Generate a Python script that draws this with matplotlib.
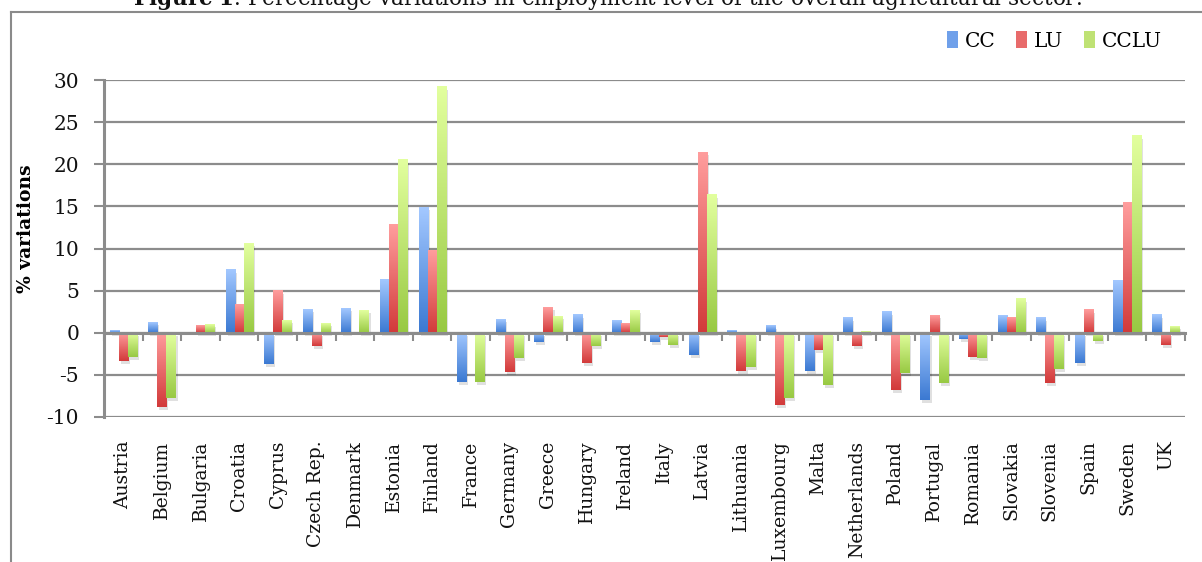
import numpy as np
import matplotlib
matplotlib.use("Agg")
import matplotlib.pyplot as plt
from matplotlib.patches import Patch
from matplotlib.colors import LinearSegmentedColormap
import matplotlib.transforms as mtransforms

countries = ["Austria", "Belgium", "Bulgaria", "Croatia", "Cyprus", "Czech Rep.",
             "Denmark", "Estonia", "Finland", "France", "Germany", "Greece",
             "Hungary", "Ireland", "Italy", "Latvia", "Lithuania", "Luxembourg",
             "Malta", "Netherlands", "Poland", "Portugal", "Romania", "Slovakia",
             "Slovenia", "Spain", "Sweden", "UK"]

cc = [0.3, 1.3, 0.0, 7.5, -3.75, 2.8, 2.9, 6.3, 14.9, -5.9, 1.6, -1.15,
      2.15, 1.45, -1.15, -2.7, 0.3, 0.85, -4.5, 1.8, 2.5, -8.0, -0.8, 2.05,
      1.8, -3.6, 6.2, 2.15]
lu = [-3.4, -8.85, 0.85, 3.4, 5.0, -1.6, 0.0, 12.85, 9.75, 0.0, -4.7, 3.0,
      -3.6, 1.1, -0.45, 21.4, -4.5, -8.6, -2.0, -1.6, -6.8, 2.05, -2.9, 1.8,
      -6.0, 2.75, 15.45, -1.5]
cclu = [-2.9, -7.7, 1.0, 10.6, 1.5, 1.1, 2.65, 20.55, 29.2, -5.9, -3.0, 1.95,
        -1.6, 2.65, -1.5, 16.4, -4.1, -7.8, -6.25, 0.2, -4.8, -6.0, -3.0, 4.05,
        -4.35, -1.0, 23.4, 0.75]

series = [("CC", cc, "#a3c8ff", "#3b79d2"),
          ("LU", lu, "#ff9d9d", "#d23a3a"),
          ("CCLU", cclu, "#e2ff9e", "#98c943")]

plt.rcParams["font.family"] = ["DejaVu Serif"]
plt.rcParams["mathtext.fontset"] = "dejavuserif"
plt.rcParams["axes.unicode_minus"] = False

W, H = 1202, 562
fig = plt.figure(figsize=(W / 100, H / 100), dpi=100)
ax = fig.add_axes([104 / W, 1 - 417 / H, (1185 - 104) / W, (417 - 80) / H])

# outer chart frame
frame_col = "#8a8a8a"
fig.add_artist(plt.Line2D([11 / W, 11 / W], [0, 1 - 12 / H], color=frame_col, lw=1.5))
fig.add_artist(plt.Line2D([11 / W, 1], [1 - 12 / H, 1 - 12 / H], color=frame_col, lw=1.5))

fig.text(0.505, 1 - 5 / H,
         r"$\mathbf{Figure\ 1}$. Percentage variations in employment level of the overall agricultural sector.",
         ha="center", va="baseline", fontsize=15.5, color="#111111")

x = np.arange(len(countries))
width = 0.235
offsets = [-0.235, 0.0, 0.235]
shadow = mtransforms.offset_copy(ax.transData, fig=fig, x=2, y=-3, units="dots")

for (name, vals, light, dark), off in zip(series, offsets):
    cmap = LinearSegmentedColormap.from_list(name, [light, dark])
    grad = np.linspace(0, 1, 64).reshape(-1, 1)
    bars = ax.bar(x + off, vals, width, color=dark, zorder=3, linewidth=0)
    for b in bars:
        h = b.get_height()
        if h == 0:
            continue
        x0, y0 = b.get_x(), b.get_y()
        ax.bar(x0 + width / 2, h, width, bottom=y0, color="#000000", alpha=0.12,
               linewidth=0, zorder=2, transform=shadow)
        ax.imshow(grad, cmap=cmap, aspect="auto", origin="upper", zorder=4,
                  extent=[x0, x0 + width, min(y0, y0 + h), max(y0, y0 + h)],
                  interpolation="bilinear")

ax.set_xlim(-0.5, len(countries) - 0.5)
ax.set_ylim(-10, 30)
ax.set_yticks(np.arange(-10, 31, 5))
grid_col = "#8c8c8c"
ax.yaxis.grid(True, color=grid_col, linewidth=1.6, zorder=1)
ax.set_axisbelow(True)

for s in ["top", "right"]:
    ax.spines[s].set_visible(False)
ax.spines["left"].set_color(grid_col)
ax.spines["left"].set_linewidth(2.2)
ax.spines["bottom"].set_position(("data", 0))
ax.spines["bottom"].set_color(grid_col)
ax.spines["bottom"].set_linewidth(2.2)
ax.spines["bottom"].set_zorder(5)

ax.set_xticks(np.arange(-0.5, len(countries), 1.0))
ax.set_xticklabels([])
ax.tick_params(axis="x", direction="out", length=6, width=1.5, color=grid_col)
ax.tick_params(axis="y", direction="out", length=7, width=1.5, color=grid_col,
               labelsize=14.5, pad=11, labelcolor="#111111")

sec = ax.secondary_xaxis(0)
sec.set_xticks(x)
sec.set_xticklabels(countries, rotation=90, fontsize=13.5, color="#111111")
sec.tick_params(length=0, pad=17)
sec.spines["bottom"].set_visible(False)

ax.set_ylabel("% variations", fontsize=13.5, fontweight="bold")
ax.yaxis.set_label_coords(-0.064, 0.558)

leg = fig.legend(handles=[Patch(facecolor="#6fa0ea", label="CC"),
                          Patch(facecolor="#e86b6b", label="LU"),
                          Patch(facecolor="#bfe274", label="CCLU")],
                 loc="center right", bbox_to_anchor=(1180 / W, 1 - 41 / H),
                 ncol=3, frameon=False, fontsize=14.5, handlelength=0.55,
                 handleheight=0.9, handletextpad=0.35, columnspacing=1.0)

fig.savefig("out.png", dpi=100)
